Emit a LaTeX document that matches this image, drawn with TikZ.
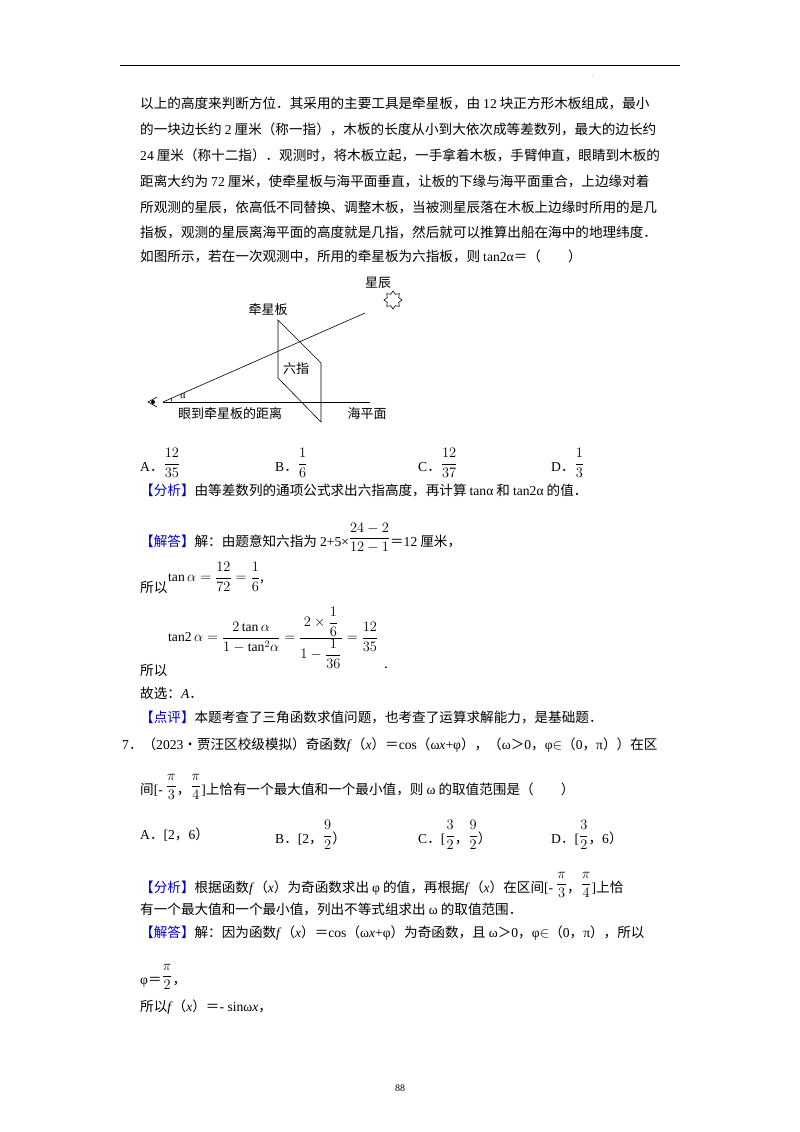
\documentclass[tikz,border=0pt]{standalone}
\usepackage{fontspec}
\usetikzlibrary{shapes.geometric}
\setmainfont{Liberation Serif}
\newfontfamily\cjk{Noto Sans CJK SC}
\newcommand\lat[1]{{\rmfamily #1}}
\newcommand\tg[1]{\textcolor{blue!75!black}{#1}}
\newcommand\dfr[2]{\raisebox{0.55ex}{$\displaystyle\frac{#1}{#2}$}}
\begin{document}
\begin{tikzpicture}[x=1pt,y=-1pt,
  txt/.style={anchor=west,inner sep=0pt,font=\cjk\fontsize{13.6}{16}\selectfont},
  lbl/.style={inner sep=0pt,font=\cjk\fontsize{13}{15}\selectfont},
  ln/.style={line width=0.6pt}]
\useasboundingbox[fill=white] (0,0) rectangle (800,1132);
\draw[line width=0.8pt] (120,65) -- (680,65);
\node[inner sep=0,font=\tiny] (dot) at (593,76) {.};
% paragraph
\node[txt] (l1) at (140,103) {以上的高度来判断方位．其采用的主要工具是牵星板，由 \lat{12} 块正方形木板组成，最小};
\node[txt] (l2) at (140,129) {的一块边长约 \lat{2} 厘米（称一指），木板的长度从小到大依次成等差数列，最大的边长约};
\node[txt] (l3) at (140,155) {\lat{24} 厘米（称十二指）．观测时，将木板立起，一手拿着木板，手臂伸直，眼睛到木板的};
\node[txt] (l4) at (140,181) {距离大约为 \lat{72} 厘米，使牵星板与海平面垂直，让板的下缘与海平面重合，上边缘对着};
\node[txt] (l5) at (140,207) {所观测的星辰，依高低不同替换、调整木板，当被测星辰落在木板上边缘时所用的是几};
\node[txt] (l6) at (140,232) {指板，观测的星辰离海平面的高度就是几指，然后就可以推算出船在海中的地理纬度．};
\node[txt] (l7) at (140,256) {如图所示，若在一次观测中，所用的牵星板为六指板，则 \lat{tan2α}＝（　　）};
% diagram
\coordinate (o) at (163,402);
\coordinate (he) at (370,402);
\coordinate (se) at (365,313);
\draw[ln] (o) -- (he);
\draw[ln] (o) -- (se);
\draw[ln] (278,320) -- (278,378) -- (321,422) -- (321,363) -- cycle;
\draw[ln] (172,402) arc (0:-27:9);
\node[lbl,font=\rmfamily\fontsize{10}{12}\selectfont] (al) at (183,396) {α};
\draw[ln] (157,397) -- (148,402) -- (157,407);
\fill (153,402) circle (2);
\node[star,star points=8,star point ratio=1.45,draw,line width=0.6pt,minimum size=18pt,inner sep=0pt] (st) at (393,300) {};
\node[lbl] (xc) at (378,283) {星辰};
\node[lbl] (qx) at (268,310) {牵星板};
\node[lbl] (lz) at (296,369) {六指};
\node[lbl] (yj) at (230,414) {眼到牵星板的距离};
\node[lbl] (hp) at (367,414) {海平面};
% options
\node[txt] (oa) at (140,463) {\lat{A}．\dfr{12}{35}};
\node[txt] (ob) at (275,463) {\lat{B}．\dfr{1}{6}};
\node[txt] (oc) at (418,463) {\lat{C}．\dfr{12}{37}};
\node[txt] (od) at (551,463) {\lat{D}．\dfr{1}{3}};
\node[txt] (fx) at (140,490) {\tg{【分析】}由等差数列的通项公式求出六指高度，再计算 \lat{tanα} 和 \lat{tan2α} 的值．};
\node[txt] (jd) at (140,538) {\tg{【解答】}解：由题意知六指为 \lat{2+5×}\dfr{24-2}{12-1}＝\lat{12} 厘米，};
\node[txt] (sy1) at (140,587) {所以};
\node[txt] (ta) at (168,577) {$\mathrm{tan}\,\alpha=\displaystyle\frac{12}{72}=\frac{1}{6}$,};
\node[txt] (t2) at (168,638) {$\mathrm{tan2}\,\alpha=\displaystyle\frac{2\,\mathrm{tan}\,\alpha}{1-\mathrm{tan}^2\alpha}=\frac{2\times\displaystyle\frac16}{1-\displaystyle\frac{1}{36}}=\frac{12}{35}$};
\node[txt] (sy2) at (140,670) {所以};
\node[txt] (pd) at (384,668) {.};
\node[txt] (gx) at (140,693) {故选：\lat{\textit{A}}．};
\node[txt] (dp) at (140,717) {\tg{【点评】}本题考查了三角函数求值问题，也考查了运算求解能力，是基础题．};
% question 7
\node[txt] (q7) at (122,745) {\lat{7}．（\lat{2023}•贾汪区校级模拟）奇函数\lat{\textit{f}}（\lat{\textit{x}}）＝\lat{cos}（\lat{ω\textit{x}+φ}），（\lat{ω}＞\lat{0}，\lat{φ}$\in$（\lat{0}，\lat{π}））在区};
\node[txt] (q7b) at (140,787) {间\lat{[-} \dfr{\pi}{3}，\dfr{\pi}{4}\lat{]}上恰有一个最大值和一个最小值，则 \lat{ω} 的取值范围是（　　）};
\node[txt] (pa) at (140,835) {\lat{A}．\lat{[2}，\lat{6}）};
\node[txt] (pb) at (275,835) {\lat{B}．\lat{[2}，\dfr{9}{2}）};
\node[txt] (pc) at (418,835) {\lat{C}．\lat{[}\dfr{3}{2}，\dfr{9}{2}）};
\node[txt] (pdd) at (551,835) {\lat{D}．\lat{[}\dfr{3}{2}，\lat{6}）};
\node[txt] (f2) at (140,885) {\tg{【分析】}根据函数\lat{\textit{f}}（\lat{\textit{x}}）为奇函数求出 \lat{φ} 的值，再根据\lat{\textit{f}}（\lat{\textit{x}}）在区间\lat{[-} \dfr{\pi}{3}，\dfr{\pi}{4}\lat{]}上恰};
\node[txt] (f2b) at (140,909) {有一个最大值和一个最小值，列出不等式组求出 \lat{ω} 的取值范围．};
\node[txt] (j2) at (140,933) {\tg{【解答】}解：因为函数\lat{\textit{f}}（\lat{\textit{x}}）＝\lat{cos}（\lat{ω\textit{x}+φ}）为奇函数，且 \lat{ω}＞\lat{0}，\lat{φ}$\in$（\lat{0}，\lat{π}），所以};
\node[txt] (j2b) at (140,977) {\lat{φ}＝\dfr{\pi}{2}，};
\node[txt] (j2c) at (140,1007) {所以\lat{\textit{f}}（\lat{\textit{x}}）＝\lat{- sinω\textit{x}}，};
\node[inner sep=0,font=\rmfamily\fontsize{10}{12}\selectfont] (pg) at (400,1088) {88};
\end{tikzpicture}
\end{document}
